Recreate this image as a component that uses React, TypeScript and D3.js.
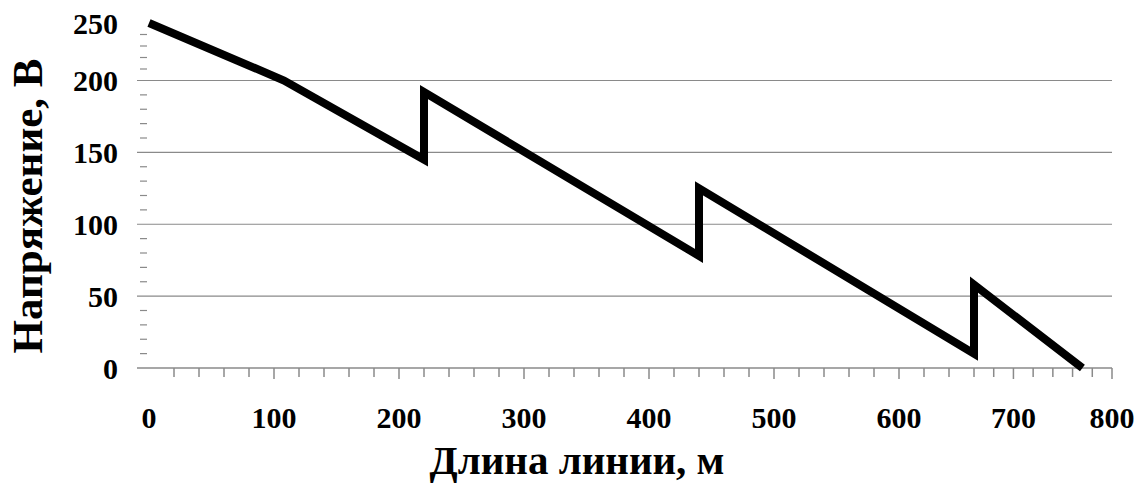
import React from "react";
import * as d3 from "d3";

// ---- data ----
const distances = [0, 108, 220, 220, 440, 440, 660, 660, 770];
const voltages = [250, 200, 145, 192, 78, 125, 10, 58, 0];
const xTickLabels = [0, 100, 200, 300, 400, 500, 600, 700, 800];
const yTickLabels = [0, 50, 100, 150, 200, 250];
const gridValues = [50, 100, 150, 200];
const xMinorStep = 20;
const yMinorStep = 10;
const xTitle = "Длина линии, м";
const yTitle = "Напряжение, В";

const W = 1134;
const H = 494;
const FONT = "'Liberation Serif', 'Times New Roman', serif";
const GRID = "#8a8a8a";

export default function App() {
  // the picture is slightly compressed near its right and top edges
  const x = d3.scaleLinear().domain([0, 660, 800]).range([149, 974, 1112]);
  const y = d3.scaleLinear().domain([0, 200, 250]).range([368, 80.5, 23]);

  const line = d3
    .line<number>()
    .x((_, i) => x(distances[i]))
    .y((v) => y(v));

  const xMinor = d3.range(xMinorStep, 800 + 1, xMinorStep);
  const yMinor = d3.range(yMinorStep, 250, yMinorStep).filter((v) => v % 50 !== 0);

  const left = 137;
  const right = x(800);

  return (
    <svg
      width={W}
      height={H}
      style={{ position: "absolute", left: 0, top: 0, background: "#fff" }}
    >
      {/* grid lines */}
      {gridValues.map((v) => (
        <line key={"g" + v} x1={left} x2={right} y1={y(v)} y2={y(v)} stroke={GRID} strokeWidth={1.2} />
      ))}
      {/* y minor ticks */}
      {yMinor.map((v) => (
        <line key={"ym" + v} x1={140} x2={147} y1={y(v)} y2={y(v)} stroke={GRID} strokeWidth={1.2} />
      ))}
      {/* x axis */}
      <line x1={left} x2={right} y1={y(0)} y2={y(0)} stroke={GRID} strokeWidth={1.5} />
      {xMinor.map((v) => (
        <line
          key={"xm" + v}
          x1={x(v)}
          x2={x(v)}
          y1={y(0)}
          y2={y(0) + (v % 100 === 0 ? 11 : 9)}
          stroke={GRID}
          strokeWidth={1.5}
        />
      ))}
      {/* y labels */}
      {yTickLabels.map((v) => (
        <text
          key={"yl" + v}
          x={118}
          y={y(v)}
          dy="0.35em"
          textAnchor="end"
          fontFamily={FONT}
          fontWeight="bold"
          fontSize={30}
          fill="#000"
        >
          {v}
        </text>
      ))}
      {/* x labels */}
      {xTickLabels.map((v) => (
        <text
          key={"xl" + v}
          x={x(v)}
          y={428}
          textAnchor="middle"
          fontFamily={FONT}
          fontWeight="bold"
          fontSize={30}
          fill="#000"
        >
          {v}
        </text>
      ))}
      {/* data line */}
      <path
        d={line(voltages) || ""}
        fill="none"
        stroke="#000"
        strokeWidth={8}
        strokeLinejoin="miter"
        strokeMiterlimit={3}
      />
      {/* axis titles */}
      <text
        x={577}
        y={474}
        textAnchor="middle"
        fontFamily={FONT}
        fontWeight="bold"
        fontSize={41}
        fill="#000"
      >
        {xTitle}
      </text>
      <text
        transform={`translate(42,206) rotate(-90)`}
        textAnchor="middle"
        fontFamily={FONT}
        fontWeight="bold"
        fontSize={43}
        fill="#000"
      >
        {yTitle}
      </text>
    </svg>
  );
}
